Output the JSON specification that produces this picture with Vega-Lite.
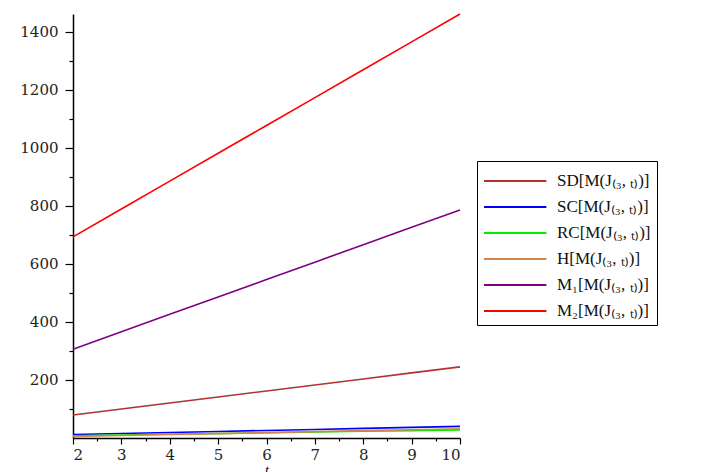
{
  "$schema": "https://vega.github.io/schema/vega-lite/v6.json",
  "autosize": {"type": "none"},
  "width": 387,
  "height": 424,
  "padding": {"left": 73, "top": 14, "right": 244, "bottom": 34},
  "background": "white",
  "config": {
    "view": {"stroke": null},
    "axis": {
      "domainColor": "black",
      "tickColor": "black",
      "labelColor": "#222",
      "labelFont": "DejaVu Serif",
      "labelFontSize": 15,
      "grid": false,
      "domainWidth": 1.5,
      "tickWidth": 1.2
    }
  },
  "data": {
    "values": [
      {"t": 2, "s": "SD[M(J₍₃, ₜ₎)]", "v": 79},
      {"t": 3, "s": "SD[M(J₍₃, ₜ₎)]", "v": 99.8},
      {"t": 4, "s": "SD[M(J₍₃, ₜ₎)]", "v": 120.5},
      {"t": 5, "s": "SD[M(J₍₃, ₜ₎)]", "v": 141.3},
      {"t": 6, "s": "SD[M(J₍₃, ₜ₎)]", "v": 162},
      {"t": 7, "s": "SD[M(J₍₃, ₜ₎)]", "v": 182.8},
      {"t": 8, "s": "SD[M(J₍₃, ₜ₎)]", "v": 203.5},
      {"t": 9, "s": "SD[M(J₍₃, ₜ₎)]", "v": 224.3},
      {"t": 10, "s": "SD[M(J₍₃, ₜ₎)]", "v": 245},
      {"t": 2, "s": "SC[M(J₍₃, ₜ₎)]", "v": 12},
      {"t": 3, "s": "SC[M(J₍₃, ₜ₎)]", "v": 15.5},
      {"t": 4, "s": "SC[M(J₍₃, ₜ₎)]", "v": 19},
      {"t": 5, "s": "SC[M(J₍₃, ₜ₎)]", "v": 22.5},
      {"t": 6, "s": "SC[M(J₍₃, ₜ₎)]", "v": 26},
      {"t": 7, "s": "SC[M(J₍₃, ₜ₎)]", "v": 29.5},
      {"t": 8, "s": "SC[M(J₍₃, ₜ₎)]", "v": 33},
      {"t": 9, "s": "SC[M(J₍₃, ₜ₎)]", "v": 36.5},
      {"t": 10, "s": "SC[M(J₍₃, ₜ₎)]", "v": 40},
      {"t": 2, "s": "RC[M(J₍₃, ₜ₎)]", "v": 8},
      {"t": 3, "s": "RC[M(J₍₃, ₜ₎)]", "v": 10.5},
      {"t": 4, "s": "RC[M(J₍₃, ₜ₎)]", "v": 13},
      {"t": 5, "s": "RC[M(J₍₃, ₜ₎)]", "v": 15.5},
      {"t": 6, "s": "RC[M(J₍₃, ₜ₎)]", "v": 18},
      {"t": 7, "s": "RC[M(J₍₃, ₜ₎)]", "v": 20.5},
      {"t": 8, "s": "RC[M(J₍₃, ₜ₎)]", "v": 23},
      {"t": 9, "s": "RC[M(J₍₃, ₜ₎)]", "v": 25.5},
      {"t": 10, "s": "RC[M(J₍₃, ₜ₎)]", "v": 28},
      {"t": 2, "s": "H[M(J₍₃, ₜ₎)]", "v": 5},
      {"t": 3, "s": "H[M(J₍₃, ₜ₎)]", "v": 8.4},
      {"t": 4, "s": "H[M(J₍₃, ₜ₎)]", "v": 11.8},
      {"t": 5, "s": "H[M(J₍₃, ₜ₎)]", "v": 15.1},
      {"t": 6, "s": "H[M(J₍₃, ₜ₎)]", "v": 18.5},
      {"t": 7, "s": "H[M(J₍₃, ₜ₎)]", "v": 21.9},
      {"t": 8, "s": "H[M(J₍₃, ₜ₎)]", "v": 25.3},
      {"t": 9, "s": "H[M(J₍₃, ₜ₎)]", "v": 28.6},
      {"t": 10, "s": "H[M(J₍₃, ₜ₎)]", "v": 32},
      {"t": 2, "s": "M₁[M(J₍₃, ₜ₎)]", "v": 306},
      {"t": 3, "s": "M₁[M(J₍₃, ₜ₎)]", "v": 366},
      {"t": 4, "s": "M₁[M(J₍₃, ₜ₎)]", "v": 426},
      {"t": 5, "s": "M₁[M(J₍₃, ₜ₎)]", "v": 486},
      {"t": 6, "s": "M₁[M(J₍₃, ₜ₎)]", "v": 546},
      {"t": 7, "s": "M₁[M(J₍₃, ₜ₎)]", "v": 606},
      {"t": 8, "s": "M₁[M(J₍₃, ₜ₎)]", "v": 666},
      {"t": 9, "s": "M₁[M(J₍₃, ₜ₎)]", "v": 726},
      {"t": 10, "s": "M₁[M(J₍₃, ₜ₎)]", "v": 786},
      {"t": 2, "s": "M₂[M(J₍₃, ₜ₎)]", "v": 693},
      {"t": 3, "s": "M₂[M(J₍₃, ₜ₎)]", "v": 789},
      {"t": 4, "s": "M₂[M(J₍₃, ₜ₎)]", "v": 885},
      {"t": 5, "s": "M₂[M(J₍₃, ₜ₎)]", "v": 981},
      {"t": 6, "s": "M₂[M(J₍₃, ₜ₎)]", "v": 1077},
      {"t": 7, "s": "M₂[M(J₍₃, ₜ₎)]", "v": 1173},
      {"t": 8, "s": "M₂[M(J₍₃, ₜ₎)]", "v": 1269},
      {"t": 9, "s": "M₂[M(J₍₃, ₜ₎)]", "v": 1365},
      {"t": 10, "s": "M₂[M(J₍₃, ₜ₎)]", "v": 1461}
    ]
  },
  "layer": [
    {
      "mark": {"type": "line", "strokeWidth": 1.6, "strokeOpacity": 0},
      "encoding": {
        "x": {"field": "t", "type": "quantitative", "scale": {"domain": [2, 10], "nice": false, "zero": false},
          "axis": {"values": [2.5, 3.5, 4.5, 5.5, 6.5, 7.5, 8.5, 9.5], "labels": false, "domain": false, "tickSize": 3, "title": null, "orient": "bottom"}},
        "y": {"field": "v", "type": "quantitative", "scale": {"domain": [0, 1461], "nice": false, "zero": false},
          "axis": {"values": [100, 300, 500, 700, 900, 1100, 1300], "labels": false, "domain": false, "tickSize": 4, "title": null, "orient": "left"}},
        "detail": {"field": "s"}
      }
    },
    {
      "mark": {"type": "line", "strokeWidth": 1.6},
      "encoding": {
        "x": {"field": "t", "type": "quantitative", "scale": {"domain": [2, 10], "nice": false, "zero": false},
          "axis": {"values": [2, 3, 4, 5, 6, 7, 8, 9, 10], "format": "d", "tickSize": 6, "labelPadding": 3, "orient": "bottom", "title": "t", "titleFont": "Liberation Serif", "titleFontStyle": "italic", "titleFontWeight": "normal", "titleFontSize": 14, "titlePadding": 1}},
        "y": {"field": "v", "type": "quantitative", "scale": {"domain": [0, 1461], "nice": false, "zero": false},
          "axis": {"values": [200, 400, 600, 800, 1000, 1200, 1400], "format": "d", "tickSize": 8, "labelPadding": 7, "title": null, "orient": "left"}},
        "color": {
          "field": "s",
          "type": "nominal",
          "scale": {
            "domain": ["SD[M(J₍₃, ₜ₎)]", "SC[M(J₍₃, ₜ₎)]", "RC[M(J₍₃, ₜ₎)]", "H[M(J₍₃, ₜ₎)]", "M₁[M(J₍₃, ₜ₎)]", "M₂[M(J₍₃, ₜ₎)]"],
            "range": ["#b03232", "#0000ff", "#00ee00", "#d2854a", "#800080", "#ff0000"]
          },
          "legend": {
            "title": null,
            "orient": "none",
            "legendX": 404,
            "legendY": 147,
            "strokeColor": "black",
            "padding": 6,
            "symbolType": "M-1,0H3.8",
            "symbolSize": 676,
            "symbolStrokeWidth": 2,
            "labelFont": "Liberation Serif",
            "labelFontSize": 17,
            "labelColor": "#111",
            "labelOffset": 46,
            "rowPadding": 4,
            "labelLimit": 250
          }
        }
      }
    }
  ],
  "resolve": {"axis": {"x": "independent", "y": "independent"}}
}
